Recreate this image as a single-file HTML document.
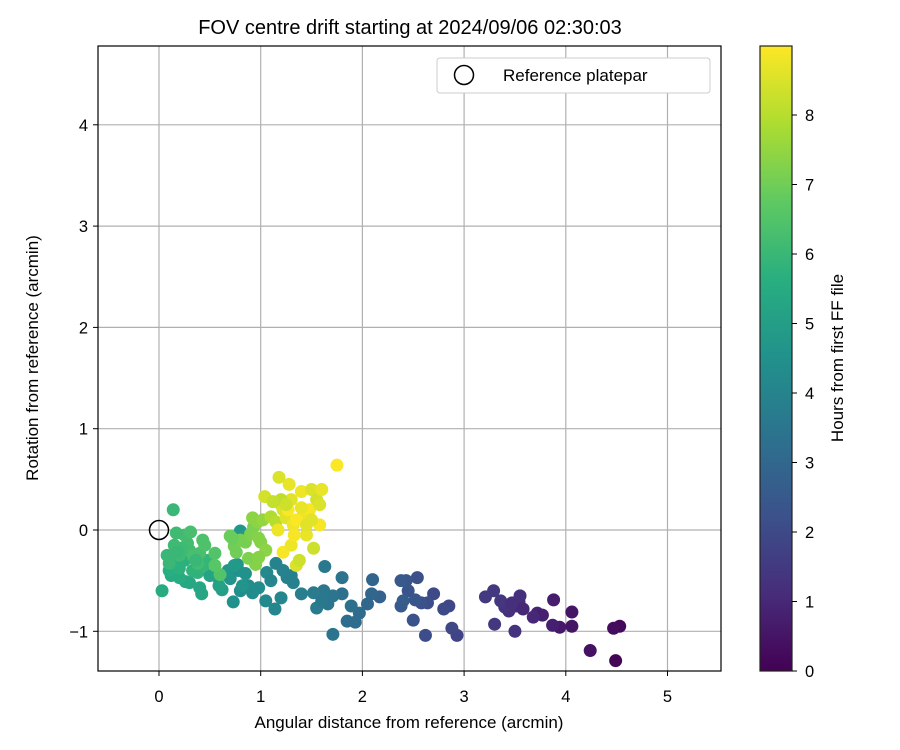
<!DOCTYPE html>
<html><head><meta charset="utf-8"><style>
html,body{margin:0;padding:0;background:#fff;}
svg{display:block;font-family:"Liberation Sans","DejaVu Sans",sans-serif;}
</style></head><body>
<svg id="chart" width="900" height="750" viewBox="0 0 900 750">
<defs>
<linearGradient id="vir" x1="0" y1="1" x2="0" y2="0">
<stop offset="0" stop-color="#440154"/><stop offset="0.125" stop-color="#472d7b"/><stop offset="0.25" stop-color="#3b528b"/><stop offset="0.375" stop-color="#2c728e"/><stop offset="0.5" stop-color="#21918c"/><stop offset="0.625" stop-color="#28ae80"/><stop offset="0.75" stop-color="#5ec962"/><stop offset="0.875" stop-color="#addc30"/><stop offset="1" stop-color="#fde725"/>
</linearGradient>
<clipPath id="clip"><rect x="98" y="46" width="623" height="625"/></clipPath>
</defs>
<text x="410" y="34" text-anchor="middle" font-size="20">FOV centre drift starting at 2024/09/06 02:30:03</text>
<g id="grid"></g>
<g id="points" clip-path="url(#clip)"></g>
<circle id="refpt" r="9.5" fill="none" stroke="#000" stroke-width="1.5"/>
<rect x="98" y="46" width="623" height="625" fill="none" stroke="#000" stroke-width="1.2"/>
<g id="xticks"></g>
<g id="yticks"></g>
<text x="409" y="728" text-anchor="middle" font-size="17">Angular distance from reference (arcmin)</text>
<text transform="translate(38,358) rotate(-90)" text-anchor="middle" font-size="17">Rotation from reference (arcmin)</text>
<g>
<rect x="437" y="58" width="273" height="35" rx="3" fill="#fff" stroke="#ccc"/>
<circle cx="464" cy="75" r="9.5" fill="none" stroke="#000" stroke-width="1.5"/>
<text x="503" y="81" font-size="17">Reference platepar</text>
</g>
<rect x="760" y="46" width="32" height="625" fill="url(#vir)" stroke="#222" stroke-width="1.2"/>
<g id="cticks"></g>
<text transform="translate(843,358) rotate(-90)" text-anchor="middle" font-size="17">Hours from first FF file</text>
</svg>
<script>
const xTicks=[0,1,2,3,4,5];
const yTicks=[-1,0,1,2,3,4];
const cTicks=[0,1,2,3,4,5,6,7,8];
const xVals=[4.49,4.53,4.47,4.24,4.06,3.94,4.06,3.88,3.87,3.72,3.77,3.68,3.54,3.51,3.55,3.50,3.44,3.40,3.36,3.29,3.21,3.30,3.58,3.47,
2.93,2.88,2.85,2.80,2.70,2.62,2.64,2.58,2.54,2.50,2.45,2.43,2.38,2.38,2.40,2.52,
2.17,2.10,2.09,2.05,1.97,1.93,1.85,1.89,1.80,1.80,1.71,1.71,1.66,1.62,1.63,1.55,1.52,1.60,1.40,1.32,1.26,1.22,1.15,1.20,1.14,1.05,1.06,0.98,0.92,0.88,0.80,0.78,0.73,0.70,0.77,0.85,0.68,0.74,0.80,0.86,0.82,1.30,1.10,
0.62,0.59,0.58,0.50,0.42,0.40,0.30,0.26,0.20,0.12,0.03,0.10,0.14,0.20,0.25,0.33,0.38,0.44,0.48,0.10,0.08,0.15,0.20,0.28,0.30,0.34,0.40,0.45,0.43,0.55,0.25,0.17,0.14,0.31,0.22,0.38,0.60,0.55,0.36,0.18,
0.70,0.74,0.76,0.80,0.85,0.90,0.93,0.95,0.98,1.00,1.05,0.92,0.72,0.88,0.98,0.97,1.02,
1.04,1.10,1.15,1.18,1.20,1.22,1.25,1.28,1.30,1.32,1.35,1.38,1.40,1.42,1.45,1.48,1.50,1.52,1.55,1.58,1.60,1.58,1.75,1.22,1.30,1.35,1.27,1.40,1.45,1.20,1.12,1.17,1.25,1.33,1.50];
const yVals=[-1.29,-0.95,-0.97,-1.19,-0.95,-0.96,-0.81,-0.69,-0.94,-0.82,-0.84,-0.86,-0.71,-0.75,-0.65,-1.00,-0.80,-0.76,-0.70,-0.60,-0.66,-0.93,-0.78,-0.72,
-1.04,-0.97,-0.75,-0.78,-0.63,-1.04,-0.72,-0.72,-0.47,-0.89,-0.60,-0.50,-0.50,-0.75,-0.70,-0.69,
-0.66,-0.49,-0.63,-0.73,-0.82,-0.91,-0.90,-0.75,-0.63,-0.47,-1.03,-0.65,-0.73,-0.60,-0.36,-0.77,-0.62,-0.70,-0.63,-0.52,-0.47,-0.40,-0.33,-0.67,-0.78,-0.70,-0.42,-0.57,-0.62,-0.55,-0.60,-0.40,-0.71,-0.48,-0.34,-0.43,-0.40,-0.35,-0.01,-0.05,-0.55,-0.45,-0.50,
-0.59,-0.55,-0.47,-0.45,-0.63,-0.57,-0.52,-0.51,-0.47,-0.45,-0.60,-0.40,-0.33,-0.38,-0.30,-0.40,-0.42,-0.35,-0.30,-0.33,-0.25,-0.15,-0.25,-0.13,-0.20,-0.26,-0.23,-0.15,-0.10,-0.23,-0.05,-0.03,0.20,-0.02,-0.18,-0.33,-0.44,-0.35,-0.30,-0.22,
-0.06,-0.16,-0.22,-0.10,-0.12,-0.04,0.03,-0.34,-0.08,-0.12,-0.20,0.12,-0.08,-0.28,-0.27,0.08,0.10,
0.33,0.13,0.08,0.52,0.25,0.20,0.12,0.45,0.30,0.05,-0.35,-0.30,0.38,0.15,-0.05,0.20,0.40,-0.18,0.30,0.05,0.40,0.25,0.64,-0.22,-0.15,0.10,0.20,0.22,0.05,0.30,0.28,0.00,0.25,-0.05,0.10];
const hours=[0.1,0.2,0.3,0.4,0.5,0.6,0.5,0.7,0.8,0.9,0.8,1.0,1.1,1.1,1.2,1.3,1.2,1.3,1.4,1.5,1.5,1.4,1.0,1.2,
1.8,1.9,1.9,2.0,2.0,2.1,2.1,2.2,2.2,2.3,2.3,2.4,2.5,2.5,2.6,2.4,
2.8,2.9,3.0,3.0,3.1,3.2,3.2,3.3,3.3,3.4,3.4,3.5,3.5,3.6,3.6,3.7,3.7,3.6,3.8,3.9,3.9,4.0,4.0,4.1,4.1,4.2,4.2,4.3,4.3,4.4,4.4,4.5,4.5,4.6,4.6,4.5,4.7,4.8,4.7,4.8,4.6,3.9,4.1,
5.0,5.1,5.1,5.2,5.3,5.3,5.4,5.4,5.5,5.5,5.5,5.6,5.6,5.7,5.7,5.8,5.8,5.9,5.9,6.0,6.0,6.1,6.1,6.2,6.2,6.3,6.3,6.4,6.4,6.5,6.2,6.1,6.0,6.3,6.1,6.2,6.5,6.6,6.0,6.0,
6.9,7.0,7.0,7.1,7.1,7.2,7.2,7.3,7.3,7.3,7.4,7.4,6.9,7.2,7.3,7.4,7.5,
8.4,7.9,8.0,8.5,8.2,8.5,8.6,8.7,8.6,8.8,8.5,8.3,8.8,8.8,8.7,8.9,8.5,8.3,8.4,8.9,8.7,8.5,8.95,8.9,8.8,8.95,8.95,8.7,8.6,8.1,8.2,8.8,8.3,8.9,8.6];
const NS="http://www.w3.org/2000/svg";
const X=v=>159+v*101.7, Y=v=>530-v*101.3, C=h=>671-h*69.5, HMAX=8.99;
const vir=["#440154","#472d7b","#3b528b","#2c728e","#21918c","#28ae80","#5ec962","#addc30","#fde725"];
function hex(c){return [1,3,5].map(i=>parseInt(c.substr(i,2),16));}
function color(h){let t=Math.max(0,Math.min(1,h/HMAX))*8;let i=Math.min(7,Math.floor(t)),f=t-i;const a=hex(vir[i]),b=hex(vir[i+1]);return "rgb("+a.map((v,k)=>Math.round(v+(b[k]-v)*f)).join(",")+")";}
function mk(tag,attrs,parent){const e=document.createElementNS(NS,tag);for(const k in attrs)e.setAttribute(k,attrs[k]);parent.appendChild(e);return e;}
const grid=document.getElementById('grid'),xt=document.getElementById('xticks'),yt=document.getElementById('yticks'),ct=document.getElementById('cticks'),pts=document.getElementById('points');
xTicks.forEach(v=>{
 const g=mk('line',{x1:X(v),x2:X(v),y1:46,y2:671,stroke:'#b0b0b0','stroke-width':1.2},grid);
 
 
 const t=mk('line',{x1:X(v),x2:X(v),y1:671,y2:676,stroke:'#000'},xt);
 
 
 const l=mk('text',{x:X(v),y:702,'text-anchor':'middle','font-size':16.5},xt);l.textContent=v;
 
 
});
yTicks.forEach(v=>{
 const g=mk('line',{x1:98,x2:721,y1:Y(v),y2:Y(v),stroke:'#b0b0b0','stroke-width':1.2},grid);
 
 
 const t=mk('line',{x1:93,x2:98,y1:Y(v),y2:Y(v),stroke:'#000'},yt);
 
 
 const l=mk('text',{x:88,y:Y(v)+6,'text-anchor':'end','font-size':16.5},yt);l.textContent=v<0?'\u2212'+(-v):v;
 
 
});
cTicks.forEach(v=>{
 const t=mk('line',{x1:792,x2:797,y1:C(v),y2:C(v),stroke:'#000'},ct);
 
 
 const l=mk('text',{x:805,y:C(v)+6,'font-size':16.5},ct);l.textContent=v;
 
 
});
xVals.forEach((v,i)=>{
 const c=mk('circle',{cx:X(v),cy:Y(yVals[i]),r:6.5,fill:color(hours[i])},pts);
 
 
});
const r=document.getElementById('refpt');r.setAttribute('cx',X(0));r.setAttribute('cy',Y(0));
</script>
</body></html>
